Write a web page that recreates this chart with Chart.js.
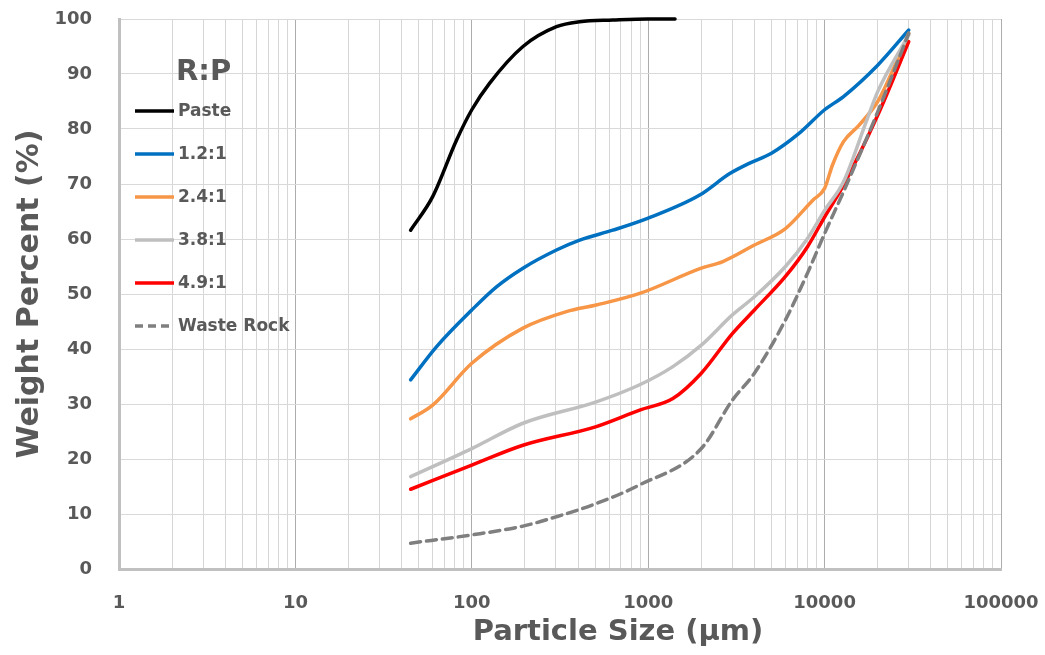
<!DOCTYPE html>
<html>
<head>
<meta charset="utf-8">
<script src="https://cdn.jsdelivr.net/npm/chart.js@4.4.1/dist/chart.umd.min.js"></script>
<style>
html,body{margin:0;padding:0;background:#fff;}
#c{display:block;}
</style>
</head>
<body>
<canvas id="c" width="1045" height="655"></canvas>
<script>
// ---- Data ----
const pasteX = [45, 60, 82, 100, 126, 195, 302, 409, 630, 1000, 1419];
const pasteY = [61.6, 67.7, 78, 83.5, 88.3, 95, 98.6, 99.5, 99.8, 100, 100];

const r12X = [45, 63, 100, 138, 195, 302, 409, 630, 1000, 1960, 2900, 3760, 5000, 7160, 10000, 12800, 20000, 30000];
const r12Y = [34.4, 40.4, 47.1, 51.3, 54.7, 58, 59.8, 61.6, 63.8, 68, 71.9, 73.8, 75.6, 79.2, 83.5, 85.9, 91.6, 98];

const r24X = [45, 60, 100, 195, 344, 508, 895, 2000, 2650, 4000, 6000, 8600, 10000, 11100, 12800, 15700, 20000, 23200, 30000];
const r24Y = [27.3, 29.8, 37.4, 43.8, 46.8, 48, 50.1, 54.7, 55.9, 58.9, 61.9, 67.1, 69.2, 73.5, 77.7, 80.7, 85, 89.2, 97.4];

const r38X = [45, 100, 195, 508, 895, 1380, 2000, 3000, 4000, 6000, 8000, 10000, 12800, 17200, 20000, 30000];
const r38Y = [16.8, 21.9, 26.5, 30.4, 33.5, 36.8, 40.7, 46.2, 49.5, 55, 60.1, 65.2, 70.4, 81.3, 86.8, 97.1];

const r49X = [45, 100, 195, 508, 895, 1380, 2000, 3000, 4000, 6000, 8000, 10000, 12800, 20000, 30000];
const r49Y = [14.5, 18.9, 22.5, 25.9, 28.9, 31, 35.6, 42.8, 47.1, 53.2, 58.6, 64, 69.8, 82.5, 95.9];

const wasteX = [45, 100, 195, 302, 508, 895, 2000, 3000, 4000, 6000, 8000, 10000, 12800, 20000, 30000];
const wasteY = [4.7, 6.2, 7.8, 9.5, 11.9, 15.3, 21.9, 30.7, 35.6, 45.3, 53.8, 61, 68.6, 83.1, 97.4];

const seriesNames = ['Paste', '1.2:1', '2.4:1', '3.8:1', '4.9:1', 'Waste Rock'];
const legendTitle = 'R:P';
const xMajorTicks = [1, 10, 100, 1000, 10000, 100000];
const yTicks = [0, 10, 20, 30, 40, 50, 60, 70, 80, 90, 100];
const xTitle = 'Particle Size (\u03bcm)';
const yTitle = 'Weight Percent (%)';

// ---- Build ----
const FONT = "'DejaVu Sans', sans-serif";
const TEXT = '#595959';
function pts(xs, ys){ return xs.map((x,i)=>({x:x, y:ys[i]})); }

const xTickValues = [];
for (let d = 0; d < xMajorTicks.length - 1; d++) {
  for (let m = 1; m <= 9; m++) xTickValues.push(m * xMajorTicks[d]);
}
xTickValues.push(xMajorTicks[xMajorTicks.length - 1]);

const styles = [
  {color:'#000000', dash:[]},
  {color:'#0070C0', dash:[]},
  {color:'#F79646', dash:[]},
  {color:'#BFBFBF', dash:[]},
  {color:'#FF0000', dash:[]},
  {color:'#7F7F7F', dash:[10,6]}
];
const allData = [pts(pasteX,pasteY), pts(r12X,r12Y), pts(r24X,r24Y), pts(r38X,r38Y), pts(r49X,r49Y), pts(wasteX,wasteY)];

// draw order: waste rock at back, then others
const order = [5, 3, 2, 1, 4, 0];
const datasets = order.map(i => ({
  label: seriesNames[i],
  data: allData[i],
  borderColor: styles[i].color,
  backgroundColor: styles[i].color,
  borderDash: styles[i].dash,
  borderWidth: 3.5,
  pointRadius: 0,
  fill: false,
  cubicInterpolationMode: 'monotone',
  borderCapStyle: 'round',
  clip: false
}));

const legendPlugin = {
  id: 'insideLegend',
  afterDraw(chart) {
    const ctx = chart.ctx;
    const a = chart.chartArea;
    ctx.save();
    ctx.fillStyle = TEXT;
    ctx.textBaseline = 'alphabetic';
    ctx.textAlign = 'left';
    ctx.font = "bold 29px " + FONT;
    ctx.fillText(legendTitle, a.left + 57, 80);
    ctx.font = "bold 17px " + FONT;
    ctx.textBaseline = 'middle';
    for (let i = 0; i < seriesNames.length; i++) {
      const y = 111 + i * 43;
      ctx.strokeStyle = styles[i].color;
      ctx.lineWidth = 3.5;
      ctx.setLineDash(styles[i].dash.length ? [8,5] : []);
      ctx.beginPath();
      ctx.moveTo(a.left + 16, y);
      ctx.lineTo(a.left + 55, y);
      ctx.stroke();
      ctx.setLineDash([]);
      ctx.fillStyle = TEXT;
      ctx.fillText(seriesNames[i], a.left + 59, y + 1);
    }
    // x axis title
    ctx.font = "bold 29px " + FONT;
    ctx.textAlign = 'center';
    ctx.textBaseline = 'middle';
    ctx.fillText(xTitle, (a.left + a.right) / 2 + 58, 632);
    ctx.restore();
  }
};

new Chart(document.getElementById('c'), {
  type: 'line',
  data: { datasets: datasets },
  options: {
    responsive: false,
    animation: false,
    layout: { padding: { top: 19, right: 44, left: 0, bottom: 0 } },
    plugins: { legend: { display: false }, tooltip: { enabled: false } },
    scales: {
      x: {
        type: 'logarithmic',
        min: 1, max: 100000,
        afterBuildTicks: s => { s.ticks = xTickValues.map(v => ({ value: v })); },
        afterFit: s => { s.height = 86; s.paddingLeft = 0; s.paddingRight = 0; },
        ticks: {
          autoSkip: false, maxRotation: 0, minRotation: 0, padding: 24,
          color: TEXT, font: { family: FONT, size: 18, weight: 'bold' },
          callback: v => xMajorTicks.includes(v) ? String(v) : ''
        },
        grid: {
          drawTicks: false,
          lineWidth: 1,
          color: c => (c.tick && xMajorTicks.includes(c.tick.value)) ? '#ADADAD' : '#D6D6D6'
        },
        border: { color: '#C0C0C0', width: 3 },
        title: { display: false }
      },
      y: {
        min: 0, max: 100,
        afterBuildTicks: s => { s.ticks = yTicks.map(v => ({ value: v })); },
        afterFit: s => { s.width = 119; s.paddingTop = 0; s.paddingBottom = 0; },
        ticks: {
          padding: 27, color: TEXT,
          font: { family: FONT, size: 18, weight: 'bold' }
        },
        grid: { drawTicks: false, color: '#D9D9D9', lineWidth: 1 },
        border: { color: '#C0C0C0', width: 3 },
        title: {
          display: true, text: yTitle, color: TEXT,
          font: { family: FONT, size: 30, weight: 'bold' },
          padding: { top: 12, bottom: 0 }
        }
      }
    }
  },
  plugins: [legendPlugin]
});
</script>
</body>
</html>
